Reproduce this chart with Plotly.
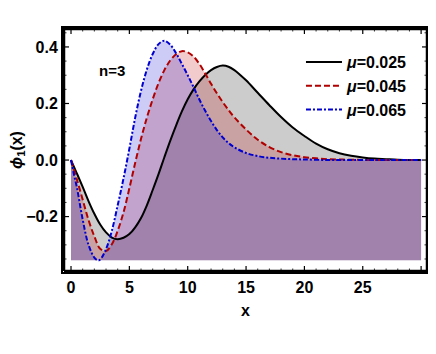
import plotly.graph_objects as go

x_black = [0, 0.5, 1, 1.5, 2, 2.5, 3, 3.5, 4, 4.5, 5, 5.5, 6, 6.5, 7, 7.5, 8, 8.5, 9, 9.5,
           10, 10.5, 11, 11.5, 12, 12.5, 13, 13.5, 14, 14.5, 15, 16, 17, 18, 19, 20, 21, 22,
           23, 24, 25, 26, 27, 28, 29, 30]
y_black = [0, -0.047, -0.095, -0.145, -0.19, -0.228, -0.256, -0.274, -0.28, -0.275, -0.262,
           -0.238, -0.205, -0.16, -0.106, -0.05, 0.01, 0.068, 0.122, 0.172,
           0.215, 0.25, 0.278, 0.301, 0.318, 0.329, 0.334, 0.33, 0.318, 0.301, 0.282, 0.238,
           0.194, 0.152, 0.115, 0.085, 0.058, 0.038, 0.024, 0.015, 0.009, 0.005, 0.003,
           0.001, 0.0, 0.0]

x_red = [0, 0.5, 1, 1.5, 2, 2.5, 3, 3.5, 4, 4.5, 5, 5.5, 6, 6.5, 7, 7.5, 8, 8.5, 9,
         9.5, 10, 10.5, 11, 11.5, 12, 12.5, 13, 13.5, 14, 15, 16, 17, 18, 19, 20, 21, 22,
         24, 26, 28, 30]
y_red = [0, -0.068, -0.14, -0.212, -0.27, -0.314, -0.322, -0.298, -0.25, -0.185,
         -0.1, -0.01, 0.075, 0.15, 0.215, 0.272, 0.318, 0.352, 0.374,
         0.385, 0.381, 0.366, 0.34, 0.306, 0.27, 0.236, 0.205, 0.177, 0.151, 0.108,
         0.072, 0.046, 0.028, 0.017, 0.01, 0.006, 0.003, 0.001, 0.0, 0.0, 0.0]

x_blue = [0, 0.25, 0.5, 1, 1.5, 2, 2.3, 2.5, 3, 3.5, 4, 4.5, 5, 5.5, 6, 6.5, 7, 7.5, 8,
          8.5, 9, 9.5, 10, 10.5, 11, 11.5, 12, 12.5, 13, 13.5, 14, 15, 16, 17, 18, 19, 20,
          22, 24, 26, 28, 30]
y_blue = [0, -0.05, -0.096, -0.21, -0.3, -0.345, -0.355, -0.352, -0.315, -0.25, -0.16,
          -0.065, 0.04, 0.15, 0.245, 0.32, 0.375, 0.41, 0.422,
          0.408, 0.378, 0.34, 0.3, 0.258, 0.214, 0.174, 0.138, 0.106, 0.08, 0.06, 0.045,
          0.025, 0.014, 0.008, 0.005, 0.003, 0.002, 0.0, 0.0, 0.0, 0.0, 0.0]

labels = ['<b><i>μ</i>=0.025</b>', '<b><i>μ</i>=0.045</b>', '<b><i>μ</i>=0.065</b>']
x_ticks = [0, 5, 10, 15, 20, 25, 30]
x_minor = [v for v in range(0, 31) if v % 5]
y_ticks = [-0.2, 0.0, 0.2, 0.4]
y_minor = [-0.35, -0.3, -0.25, -0.15, -0.1, -0.05, 0.05, 0.1, 0.15, 0.25, 0.3, 0.35, 0.45]
y_tick_text = ['<b>−0.2</b>', '<b>0.0</b>', '<b>0.2</b>', '<b>0.4</b>']

BASE = -0.354  # filling goes down to the bottom of the curves
XR = [-0.686, 30.59]
YR = [-0.396, 0.467]
PLOT_W, PLOT_H = 365, 244
DX = (XR[1] - XR[0]) / PLOT_W  # data units per pixel
DY = (YR[1] - YR[0]) / PLOT_H

series = [
    (x_black, y_black, labels[0], 'black', 'rgba(0,0,0,0.2)', 'solid'),
    (x_red, y_red, labels[1], '#B00000', 'rgba(190,0,0,0.2)', '6px,3px'),
    (x_blue, y_blue, labels[2], '#0000D0', 'rgba(0,0,210,0.2)', '5px,2px,2px,2px'),
]

FONT = 'Liberation Sans'
font16 = dict(size=16, color='black', family=FONT)

fig = go.Figure()

# filled areas
for xs, ys, name, lc, fc, dash in series:
    fig.add_trace(go.Scatter(x=xs, y=[BASE] * len(xs), mode='lines',
                             line=dict(width=0), showlegend=False, hoverinfo='skip'))
    fig.add_trace(go.Scatter(x=xs, y=ys, mode='lines', fill='tonexty', fillcolor=fc,
                             line=dict(width=0, shape='spline'), showlegend=False,
                             hoverinfo='skip'))

# curves on top
for i, (xs, ys, name, lc, fc, dash) in enumerate(series):
    fig.add_trace(go.Scatter(x=xs, y=ys, mode='lines', name=name, legendgroup=str(i),
                             line=dict(color=lc, width=2, dash=dash, shape='spline')))


# Mathematica-style frame ticks on all four sides
def tick_segments(xvals, yvals, len_px):
    sx, sy = [], []
    for v in xvals:
        sx += [v, v, None, v, v, None]
        sy += [YR[0], YR[0] + len_px * DY, None, YR[1], YR[1] - len_px * DY, None]
    for v in yvals:
        sx += [XR[0], XR[0] + len_px * DX, None, XR[1], XR[1] - len_px * DX, None]
        sy += [v, v, None, v, v, None]
    return sx, sy


mx, my = tick_segments(x_ticks, y_ticks, 6)
nx_, ny_ = tick_segments(x_minor, y_minor, 3.5)
fig.add_trace(go.Scatter(x=nx_, y=ny_, mode='lines', line=dict(color='#333', width=1),
                         showlegend=False, hoverinfo='skip', connectgaps=False))
fig.add_trace(go.Scatter(x=mx, y=my, mode='lines', line=dict(color='black', width=1.2),
                         showlegend=False, hoverinfo='skip', connectgaps=False))

# frame, kept 1px inside the plotting area so that it is not clipped
fx0, fx1 = XR[0] + DX, XR[1] - DX
fy0, fy1 = YR[0] + DY, YR[1] - DY
fig.add_trace(go.Scatter(x=[fx0, fx1, fx1, fx0, fx0], y=[fy0, fy0, fy1, fy1, fy0],
                         mode='lines', line=dict(color='black', width=2.5),
                         showlegend=False, hoverinfo='skip'))

fig.add_annotation(x=3.5, y=0.315, text='<b>n=3</b>', showarrow=False,
                   font=dict(size=15, color='black', family=FONT))

fig.update_layout(
    xaxis=dict(range=XR, tickvals=x_ticks, ticktext=['<b>%d</b>' % v for v in x_ticks],
               showline=True, linewidth=2, linecolor='black', mirror=True, ticks='',
               showgrid=False, zeroline=False, tickfont=font16, automargin=False,
               title=dict(text='<b>x</b>', standoff=10, font=font16)),
    yaxis=dict(range=YR, tickvals=y_ticks, ticktext=y_tick_text,
               showline=True, linewidth=2, linecolor='black', mirror=True, ticks='',
               showgrid=False, zeroline=False, tickfont=font16, automargin=False,
               title=dict(text='<b><i>ϕ</i><sub>1</sub>(x)</b>', standoff=4, font=font16)),
    # page body has an 8px margin: keep the page inside the 436x354 window
    width=420, height=338,
    margin=dict(l=55, r=0, t=20, b=74),
    paper_bgcolor='white', plot_bgcolor='white',
    legend=dict(x=0.652, y=0.93, xanchor='left', yanchor='top', font=font16,
                traceorder='normal', tracegroupgap=5, itemwidth=36),
)

fig.write_html("out.html")
